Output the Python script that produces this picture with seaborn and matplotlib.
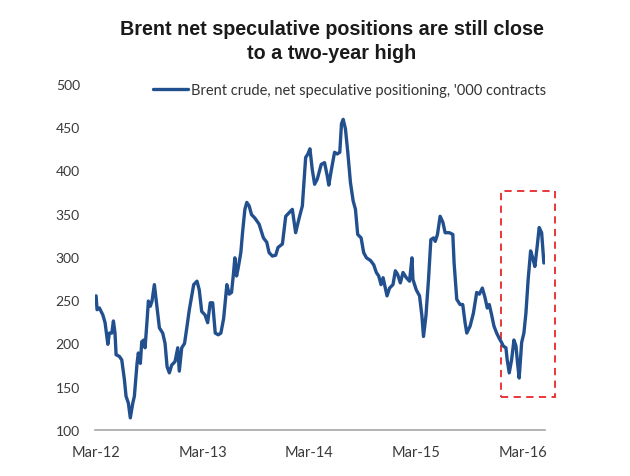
import numpy as np
import pandas as pd
import matplotlib
matplotlib.use("Agg")
import matplotlib.pyplot as plt
import matplotlib.dates as mdates
from matplotlib.patches import Rectangle
import seaborn as sns

# ---- data ----
year_frac = [
    2012.164, 2012.173, 2012.195, 2012.227, 2012.248, 2012.274, 2012.288, 2012.311, 2012.326, 2012.341,
    2012.351, 2012.382, 2012.404, 2012.429, 2012.444, 2012.466, 2012.484, 2012.507, 2012.522, 2012.547,
    2012.559, 2012.578, 2012.591, 2012.610, 2012.622, 2012.641, 2012.653, 2012.671, 2012.687, 2012.709,
    2012.725, 2012.756, 2012.787, 2012.809, 2012.828, 2012.849, 2012.871, 2012.902, 2012.928, 2012.942,
    2012.965, 2012.991, 2013.010, 2013.036, 2013.077, 2013.108, 2013.129, 2013.152, 2013.183, 2013.208,
    2013.232, 2013.255, 2013.279, 2013.307, 2013.332, 2013.358, 2013.388, 2013.410, 2013.432, 2013.451,
    2013.463, 2013.479, 2013.494, 2013.519, 2013.535, 2013.557, 2013.575, 2013.597, 2013.619, 2013.650,
    2013.690, 2013.731, 2013.762, 2013.784, 2013.815, 2013.846, 2013.868, 2013.909, 2013.940, 2013.971,
    2014.002, 2014.033, 2014.064, 2014.096, 2014.127, 2014.148, 2014.167, 2014.189, 2014.211, 2014.236,
    2014.273, 2014.304, 2014.329, 2014.344, 2014.367, 2014.398, 2014.423, 2014.447, 2014.463, 2014.479,
    2014.500, 2014.522, 2014.547, 2014.572, 2014.594, 2014.615, 2014.647, 2014.671, 2014.697, 2014.734,
    2014.765, 2014.790, 2014.812, 2014.834, 2014.853, 2014.874, 2014.890, 2014.914, 2014.946, 2014.968,
    2014.989, 2015.015, 2015.040, 2015.071, 2015.101, 2015.124, 2015.133, 2015.164, 2015.195, 2015.217,
    2015.232, 2015.255, 2015.279, 2015.301, 2015.326, 2015.342, 2015.363, 2015.388, 2015.414, 2015.435,
    2015.475, 2015.507, 2015.519, 2015.544, 2015.575, 2015.600, 2015.622, 2015.638, 2015.669, 2015.700,
    2015.731, 2015.756, 2015.784, 2015.809, 2015.830, 2015.849, 2015.871, 2015.893, 2015.918, 2015.942,
    2015.965, 2015.980, 2016.005, 2016.017, 2016.036, 2016.058, 2016.080, 2016.099, 2016.114, 2016.129,
    2016.152, 2016.173, 2016.192, 2016.213, 2016.236, 2016.255, 2016.276, 2016.298, 2016.316, 2016.339,
    2016.360,
]
positions = [
    255, 239, 241, 233, 224, 199, 212, 212, 226, 212,
    187, 185, 181, 158, 139, 131, 114, 131, 139, 177,
    189, 177, 202, 204, 195, 227, 249, 243, 249, 268,
    251, 218, 212, 200, 173, 166, 175, 179, 195, 168,
    195, 200, 216, 239, 268, 272, 262, 237, 233, 224,
    247, 247, 212, 210, 212, 229, 268, 257, 259, 282,
    299, 278, 287, 305, 328, 355, 363, 359, 349, 345,
    338, 322, 317, 305, 301, 302, 311, 315, 347, 351,
    355, 328, 344, 359, 415, 419, 425, 401, 384, 390,
    407, 409, 394, 383, 400, 421, 419, 421, 454, 459,
    448, 421, 386, 365, 355, 326, 322, 305, 299, 296,
    291, 282, 278, 268, 276, 264, 255, 264, 268, 284,
    280, 270, 282, 276, 272, 299, 274, 262, 255, 232,
    208, 232, 274, 320, 322, 318, 326, 347, 340, 328,
    328, 326, 293, 251, 245, 245, 224, 212, 220, 235,
    259, 257, 264, 253, 241, 245, 233, 220, 212, 206,
    201, 197, 195, 181, 166, 181, 204, 197, 177, 160,
    201, 212, 235, 274, 307, 299, 289, 313, 334, 328,
    293,
]
tick_dates = ["2012-03-01", "2013-03-01", "2014-03-01", "2015-03-01", "2016-03-01"]
tick_labels = ["Mar-12", "Mar-13", "Mar-14", "Mar-15", "Mar-16"]
y_ticks = [100, 150, 200, 250, 300, 350, 400, 450, 500]
box_start, box_end = 2015.956, 2016.463
box_low, box_high = 138, 376
series_name = "Brent crude, net speculative positioning, '000 contracts"
title = "Brent net speculative positions are still close\nto a two-year high"


def to_date(y):
    yr = int(y)
    start = pd.Timestamp(f"{yr}-01-01")
    days = (pd.Timestamp(f"{yr + 1}-01-01") - start).days
    return start + pd.Timedelta(days=(y - yr) * days)


df = pd.DataFrame({"date": [to_date(y) for y in year_frac], "value": positions})

sns.set_style("white")
plt.rcParams["font.family"] = ["Lato", "DejaVu Sans"]

fig = plt.figure(figsize=(6.3, 4.77), dpi=100)
ax = fig.add_axes([0.151, 0.0965, 0.714, 0.7255])

line_color = "#22508f"
sns.lineplot(data=df, x="date", y="value", ax=ax, color=line_color, linewidth=2.4,
             label=series_name)

ax.set_ylim(100, 500)
ax.set_xlim(to_date(2012.155), to_date(2016.37))
ax.set_yticks(y_ticks)
ax.set_yticklabels([str(v) for v in y_ticks], fontsize=10, color="#3a3a3a")
ax.set_xticks([pd.Timestamp(d) for d in tick_dates])
ax.set_xticklabels(tick_labels, fontsize=10.5, color="#3a3a3a")
ax.set_xlabel("")
ax.set_ylabel("")

for s in ["top", "right", "left"]:
    ax.spines[s].set_visible(False)
ax.spines["bottom"].set_color("#a6a6a6")
ax.spines["bottom"].set_linewidth(1.2)
ax.tick_params(axis="x", direction="out", length=5, width=1.2, color="#a6a6a6", pad=6)
ax.tick_params(axis="y", length=0, pad=11)

# dashed highlight box
x0 = mdates.date2num(to_date(box_start))
x1 = mdates.date2num(to_date(box_end))
rect = Rectangle((x0, box_low), x1 - x0, box_high - box_low, fill=False,
                 edgecolor="#e8262b", linestyle=(0, (4, 3)), linewidth=1.3, clip_on=False)
ax.add_patch(rect)

leg = ax.legend(loc="upper left", bbox_to_anchor=(0.115, 1.02), frameon=False,
                fontsize=10.5, handlelength=2.45, handletextpad=0.2, borderaxespad=0)
for t in leg.get_texts():
    t.set_color("#333333")

fig.text(0.527, 0.958, title, ha="center", va="top", fontsize=14.2, fontweight="bold",
         family=["Liberation Sans", "DejaVu Sans"], color="#1a1a1a", linespacing=1.3)

fig.savefig("out.png", dpi=100, facecolor="white")
